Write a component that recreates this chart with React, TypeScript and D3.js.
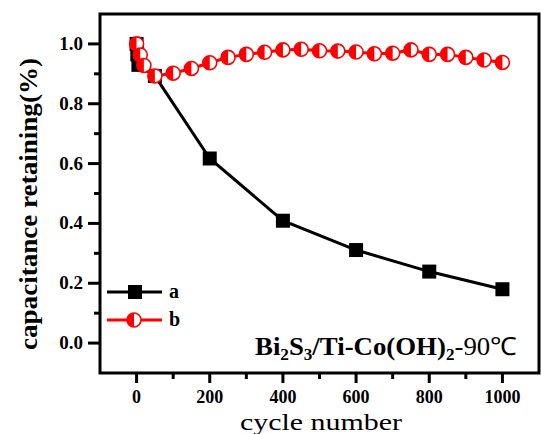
import React from 'react';
import * as d3 from 'd3';

// series a: black squares
const cyclesA = [0, 2, 5, 50, 200, 400, 600, 800, 1000];
const retainA = [1.0, 0.965, 0.93, 0.893, 0.617, 0.409, 0.311, 0.239, 0.18];

// series b: red half-filled circles
const cyclesB = [0, 10, 20, 50, 100, 150, 200, 250, 300, 350, 400, 450, 500, 550, 600, 650, 700, 750, 800, 850, 900, 950, 1000];
const retainB = [1.0, 0.963, 0.928, 0.893, 0.902, 0.918, 0.937, 0.955, 0.965, 0.972, 0.98, 0.982, 0.977, 0.976, 0.973, 0.967, 0.969, 0.98, 0.965, 0.965, 0.955, 0.946, 0.938];

const xMajor = [0, 200, 400, 600, 800, 1000];
const xMinor = [100, 300, 500, 700, 900];
const yMajor = [0.0, 0.2, 0.4, 0.6, 0.8, 1.0];
const yMinor = [0.1, 0.3, 0.5, 0.7, 0.9];

const W = 541;
const H = 434;
const font = "'Liberation Serif', 'Times New Roman', Times, serif";

function HalfCircle({cx, cy, r}: {cx: number; cy: number; r: number}) {
    return (
        <g>
            <circle cx={cx} cy={cy} r={r} fill="#fff" stroke="#ff0000" strokeWidth={1.6}/>
            <path d={`M${cx},${cy - r} A${r},${r} 0 0 0 ${cx},${cy + r} Z`} fill="#ff0000"/>
        </g>
    );
}

export default function App() {
    const x = d3.scaleLinear().domain([-100, 1100]).range([100, 539]);
    const y = d3.scaleLinear().domain([-0.1, 1.1]).range([373, 14]);

    const line = d3.line<[number, number]>()
        .x((d) => x(d[0]))
        .y((d) => y(d[1]));

    const ptsA = cyclesA.map((c, i) => [c, retainA[i]] as [number, number]);
    const ptsB = cyclesB.map((c, i) => [c, retainB[i]] as [number, number]);

    const [x0, x1] = x.range();
    const [y0, y1] = y.range();

    return (
        <svg width={W} height={H} style={{position: 'absolute', left: 0, top: 0, background: '#fff', fontFamily: font}}>
            {/* series a */}
            <path d={line(ptsA) || ''} fill="none" stroke="#000" strokeWidth={3}/>
            {ptsA.map((d, i) => (
                <rect key={'a' + i} x={x(d[0]) - 7} y={y(d[1]) - 7} width={14} height={14} fill="#000"/>
            ))}

            {/* series b */}
            <path d={line(ptsB) || ''} fill="none" stroke="#ff0000" strokeWidth={3}/>
            {ptsB.map((d, i) => (
                <HalfCircle key={'b' + i} cx={x(d[0])} cy={y(d[1])} r={7}/>
            ))}

            {/* frame */}
            <rect x={x0} y={y1} width={x1 - x0} height={y0 - y1} fill="none" stroke="#000" strokeWidth={3}/>

            {/* x ticks */}
            {xMajor.map((t) => (
                <g key={'xt' + t}>
                    <line x1={x(t)} x2={x(t)} y1={y0} y2={y0 + 10} stroke="#000" strokeWidth={3}/>
                    <text x={x(t)} y={403} textAnchor="middle" fontSize={18} fontWeight="bold">{t}</text>
                </g>
            ))}
            {xMinor.map((t) => (
                <line key={'xm' + t} x1={x(t)} x2={x(t)} y1={y0} y2={y0 + 6} stroke="#000" strokeWidth={3}/>
            ))}

            {/* y ticks */}
            {yMajor.map((t) => (
                <g key={'yt' + t}>
                    <line x1={x0 - 12} x2={x0} y1={y(t)} y2={y(t)} stroke="#000" strokeWidth={3}/>
                    <text x={83} y={y(t) + 6} textAnchor="end" fontSize={19} fontWeight="bold">{t.toFixed(1)}</text>
                </g>
            ))}
            {yMinor.map((t) => (
                <line key={'ym' + t} x1={x0 - 6} x2={x0} y1={y(t)} y2={y(t)} stroke="#000" strokeWidth={3}/>
            ))}

            {/* axis titles */}
            <text x={321} y={430} textAnchor="middle" fontSize={24} textLength={162}
                  lengthAdjust="spacingAndGlyphs">cycle number</text>
            <text transform="translate(37,204) rotate(-90)" textAnchor="middle" fontSize={25}
                  fontWeight="bold" textLength={292} lengthAdjust="spacingAndGlyphs">capacitance retaining(%)</text>

            {/* legend */}
            <line x1={107} x2={162} y1={292} y2={292} stroke="#000" strokeWidth={3}/>
            <rect x={128} y={285} width={14} height={14} fill="#000"/>
            <text x={169} y={298} fontSize={20} fontWeight="bold">a</text>
            <line x1={107} x2={162} y1={320} y2={320} stroke="#ff0000" strokeWidth={3}/>
            <HalfCircle cx={134} cy={320} r={7}/>
            <text x={169} y={326} fontSize={20} fontWeight="bold">b</text>

            {/* annotation */}
            <text x={255} y={355} fontSize={25} fontWeight="bold" textLength={262} lengthAdjust="spacingAndGlyphs">
                Bi<tspan fontSize={16} dy={5}>2</tspan>
                <tspan dy={-5}>S</tspan><tspan fontSize={16} dy={5}>3</tspan>
                <tspan dy={-5}>/Ti-Co(OH)</tspan><tspan fontSize={16} dy={5}>2</tspan>
                <tspan dy={-5} fontWeight="normal">-90℃</tspan>
            </text>
        </svg>
    );
}
